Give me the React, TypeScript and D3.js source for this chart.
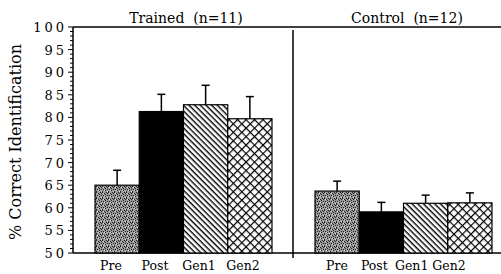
import React, { useEffect, useRef } from 'react';
import * as d3 from 'd3';

const conditions = ['Pre', 'Post', 'Gen1', 'Gen2'];
const groups = ['Trained  (n=11)', 'Control  (n=12)'];
const trainedMeans = [65.0, 81.3, 82.8, 79.7];
const trainedErr = [3.3, 3.8, 4.3, 4.9];
const controlMeans = [63.7, 59.1, 61.0, 61.1];
const controlErr = [2.2, 2.1, 1.8, 2.2];
const yTicks = [50, 55, 60, 65, 70, 75, 80, 85, 90, 95, 100];

const W = 501;
const H = 274;

function App() {
  const ref = useRef<SVGSVGElement>(null);

  useEffect(() => {
    const svg = d3.select(ref.current);
    svg.selectAll('*').remove();

    const font = "'DejaVu Serif', serif";
    const y = d3.scaleLinear().domain([50, 100]).range([253, 27]);
    const left = 73;
    const divider = 293;

    // patterns
    const defs = svg.append('defs');
    const stip = defs.append('pattern').attr('id', 'stip')
      .attr('patternUnits', 'userSpaceOnUse').attr('width', 6).attr('height', 6);
    stip.append('rect').attr('width', 6).attr('height', 6).attr('fill', '#999');
    [[0, 0], [2, 1], [4, 0], [1, 3], [3, 4], [5, 3], [0, 5], [3, 2], [5, 1]].forEach(([px, py]) =>
      stip.append('rect').attr('x', px).attr('y', py).attr('width', 1).attr('height', 1).attr('fill', '#222'));
    [[1, 1], [5, 5], [2, 4]].forEach(([px, py]) =>
      stip.append('rect').attr('x', px).attr('y', py).attr('width', 1).attr('height', 1).attr('fill', '#ddd'));

    const diag = defs.append('pattern').attr('id', 'diag')
      .attr('patternUnits', 'userSpaceOnUse').attr('width', 4).attr('height', 4)
      .attr('patternTransform', 'rotate(45)');
    diag.append('rect').attr('width', 4).attr('height', 4).attr('fill', '#fff');
    diag.append('rect').attr('width', 4).attr('height', 1.4).attr('fill', '#000');

    const cross = defs.append('pattern').attr('id', 'cross')
      .attr('patternUnits', 'userSpaceOnUse').attr('width', 6).attr('height', 6)
      .attr('patternTransform', 'rotate(45)');
    cross.append('rect').attr('width', 6).attr('height', 6).attr('fill', '#fff');
    cross.append('rect').attr('width', 6).attr('height', 1.2).attr('fill', '#000');
    cross.append('rect').attr('width', 1.2).attr('height', 6).attr('fill', '#000');

    const fills = ['url(#stip)', '#000', 'url(#diag)', 'url(#cross)'];

    // frame lines
    svg.append('line').attr('x1', left).attr('x2', W).attr('y1', y(100)).attr('y2', y(100))
      .attr('stroke', '#000').attr('stroke-width', 1.5);
    svg.append('line').attr('x1', left).attr('x2', W).attr('y1', y(50)).attr('y2', y(50))
      .attr('stroke', '#000').attr('stroke-width', 1.5);
    svg.append('line').attr('x1', left).attr('x2', left).attr('y1', y(100)).attr('y2', y(50))
      .attr('stroke', '#000').attr('stroke-width', 1.5);
    svg.append('line').attr('x1', divider).attr('x2', divider).attr('y1', y(100) + 3).attr('y2', y(50) + 5)
      .attr('stroke', '#000').attr('stroke-width', 1.5);

    // y axis ticks
    const minor = d3.range(50, 101, 1);
    svg.append('g').selectAll('line').data(minor).join('line')
      .attr('x1', (d) => (d % 5 === 0 ? left - 5 : left - 3)).attr('x2', left)
      .attr('y1', (d) => y(d)).attr('y2', (d) => y(d))
      .attr('stroke', '#000').attr('stroke-width', 1);
    svg.append('g').selectAll('text').data(yTicks).join('text')
      .attr('x', left - 6).attr('y', (d) => y(d) + 5)
      .attr('text-anchor', 'end').attr('font-family', font).attr('font-size', 13)
      .attr('letter-spacing', 3)
      .text((d) => String(d));

    svg.append('text')
      .attr('transform', `translate(21, 142) rotate(-90)`)
      .attr('text-anchor', 'middle').attr('font-family', font).attr('font-size', 16)
      .text('% Correct Identification');

    const panels = [
      { title: groups[0], means: trainedMeans, errs: trainedErr, range: [95, 272], labels: [111, 243], titleX: 186 },
      { title: groups[1], means: controlMeans, errs: controlErr, range: [315, 492], labels: [337, 449], titleX: 407 },
    ];

    panels.forEach((p) => {
      const x = d3.scaleBand().domain(conditions).range(p.range as [number, number]).padding(0);
      const lx = d3.scalePoint().domain(conditions).range(p.labels as [number, number]);
      const g = svg.append('g');
      const data = conditions.map((c, i) => ({ c, m: p.means[i], e: p.errs[i], fill: fills[i] }));

      // error bars
      g.selectAll('line.stem').data(data).join('line').attr('class', 'stem')
        .attr('x1', (d) => x(d.c)! + x.bandwidth() / 2).attr('x2', (d) => x(d.c)! + x.bandwidth() / 2)
        .attr('y1', (d) => y(d.m)).attr('y2', (d) => y(d.m + d.e))
        .attr('stroke', '#000').attr('stroke-width', 1.5);
      g.selectAll('line.cap').data(data).join('line').attr('class', 'cap')
        .attr('x1', (d) => x(d.c)! + x.bandwidth() / 2 - 4).attr('x2', (d) => x(d.c)! + x.bandwidth() / 2 + 4)
        .attr('y1', (d) => y(d.m + d.e)).attr('y2', (d) => y(d.m + d.e))
        .attr('stroke', '#000').attr('stroke-width', 1.5);

      g.selectAll('rect').data(data).join('rect')
        .attr('x', (d) => x(d.c)!).attr('width', x.bandwidth())
        .attr('y', (d) => y(d.m)).attr('height', (d) => y(50) - y(d.m))
        .attr('fill', (d) => d.fill).attr('stroke', '#000').attr('stroke-width', 1.2);

      g.selectAll('text').data(conditions).join('text')
        .attr('x', (d) => lx(d)!).attr('y', 270)
        .attr('text-anchor', 'middle').attr('font-family', font).attr('font-size', 12.5)
        .text((d) => d);

      svg.append('text').attr('x', p.titleX).attr('y', 23)
        .attr('text-anchor', 'middle').attr('font-family', font).attr('font-size', 14)
        .style('white-space', 'pre')
        .text(p.title);
    });
  }, []);

  return (
    <svg ref={ref} width={W} height={H}
      style={{ position: 'absolute', left: 0, top: 0, background: '#fff' }} />
  );
}

export default App;
